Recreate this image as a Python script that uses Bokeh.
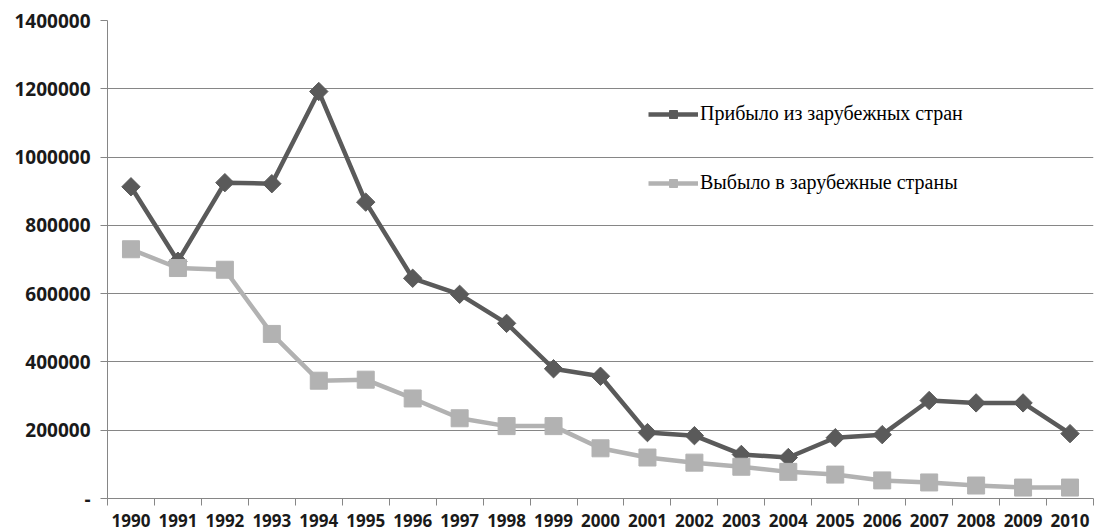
import math
from bokeh.plotting import figure
from bokeh.models import FixedTicker, Legend, LegendItem, ColumnDataSource, Range1d
from bokeh.embed import file_html
from bokeh.resources import INLINE

years = [1990, 1991, 1992, 1993, 1994, 1995, 1996, 1997, 1998, 1999, 2000,
         2001, 2002, 2003, 2004, 2005, 2006, 2007, 2008, 2009, 2010]
arrived = [913000, 695000, 925000, 922000, 1192000, 868000, 645000, 598000, 513000, 380000,
           358000, 193000, 184000, 129000, 120000, 178000, 187000, 287000, 280000, 280000, 190000]
departed = [730000, 675000, 670000, 482000, 345000, 348000, 293000, 235000, 212000, 212000,
            147000, 120000, 105000, 93000, 78000, 70000, 53000, 47000, 38000, 32000, 32000]
y_ticks = [0, 200000, 400000, 600000, 800000, 1000000, 1200000, 1400000]
y_tick_labels = ["-", "200000", "400000", "600000", "800000", "1000000", "1200000", "1400000"]
series_names = ["Прибыло из зарубежных стран", "Выбыло в зарубежные страны"]

DARK = "#5a5a5a"
LIGHT = "#b2b2b2"
GRID = "#868686"

src = ColumnDataSource(dict(x=years, a=arrived, d=departed))

p = figure(width=1098, height=531, output_backend="svg", toolbar_location=None,
           x_range=Range1d(years[0] - 0.5, years[-1] + 0.5),
           y_range=Range1d(y_ticks[0], y_ticks[-1]),
           min_border_left=107, min_border_top=20, min_border_right=5, min_border_bottom=33)
p.outline_line_color = None
p.background_fill_color = "white"

# x axis: labels at centers, tick marks at category boundaries
xa = p.xaxis[0]
xa.ticker = FixedTicker(ticks=years, minor_ticks=[y - 0.5 for y in years] + [years[-1] + 0.5])
xa.major_label_overrides = {y: str(y) for y in years}
xa.major_tick_out = 0
xa.major_tick_in = 0
xa.minor_tick_out = 7
xa.minor_tick_in = 0
xa.minor_tick_line_color = GRID
xa.axis_line_color = GRID
xa.major_label_standoff = 8
xa.major_label_text_font = "Open Sans"
xa.major_label_text_font_style = "bold"
xa.major_label_text_font_size = "17px"
xa.major_label_text_color = "#1a1a1a"

ya = p.yaxis[0]
ya.ticker = FixedTicker(ticks=y_ticks, minor_ticks=[])
ya.major_label_overrides = {t: l for t, l in zip(y_ticks, y_tick_labels)}
ya.major_tick_out = 7
ya.major_tick_in = 0
ya.major_tick_line_color = GRID
ya.axis_line_color = GRID
ya.major_label_standoff = 10
ya.major_label_text_font = "Open Sans"
ya.major_label_text_font_style = "bold"
ya.major_label_text_font_size = "19px"
ya.major_label_text_color = "#1a1a1a"

p.xgrid.grid_line_color = None
p.ygrid.grid_line_color = GRID
p.ygrid.grid_line_width = 1

l1 = p.line("x", "a", source=src, line_color=DARK, line_width=4.5)
m1 = p.scatter("x", "a", source=src, marker="square", angle=math.pi / 4, size=13,
               fill_color=DARK, line_color=DARK)
l2 = p.line("x", "d", source=src, line_color=LIGHT, line_width=4.5)
m2 = p.scatter("x", "d", source=src, marker="square", size=17,
               fill_color=LIGHT, line_color=LIGHT)

legend = Legend(items=[LegendItem(label=series_names[0], renderers=[l1, m1]),
                       LegendItem(label=series_names[1], renderers=[l2, m2])],
                location=(541, 304))
legend.glyph_width = 50
legend.glyph_height = 20
legend.label_height = 20
legend.spacing = 46
legend.padding = 0
legend.margin = 0
legend.label_standoff = 2
legend.border_line_color = None
legend.background_fill_alpha = 0
legend.label_text_font = "Liberation Serif"
legend.label_text_font_size = "20px"
legend.label_text_color = "#000000"
p.add_layout(legend)

open("out.html", "w").write(file_html(p, INLINE))
